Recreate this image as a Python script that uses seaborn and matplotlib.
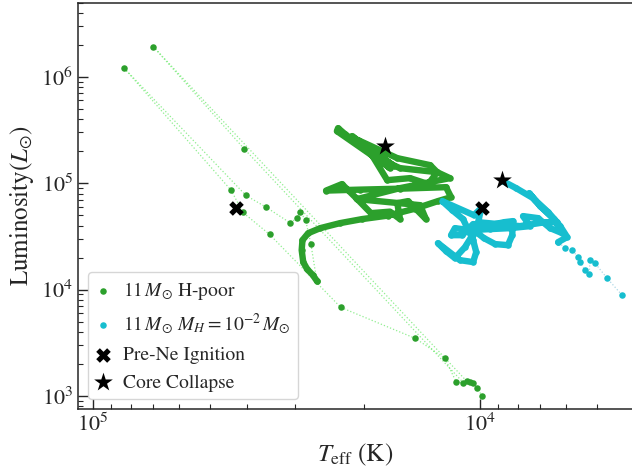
import numpy as np
import pandas as pd
import matplotlib
matplotlib.use("Agg")
import matplotlib.pyplot as plt
import seaborn as sns
from matplotlib.ticker import NullFormatter, LogLocator

# ---------------- data (log10 Teff [K], log10 L [Lsun]) ----------------
# 11 Msun H-poor: sparse models (time ordered)
hpoor_sparse_logT = [3.994, 4.007, 4.019, 4.026, 4.034, 4.844, 4.609, 4.043, 4.062, 4.091,
                     4.167, 4.360, 4.544, 4.613, 4.643, 4.919, 4.605, 4.553, 4.491, 4.474,
                     4.465, 4.451, 4.437, 4.422]
hpoor_sparse_logL = [2.996, 3.072, 3.119, 3.134, 3.137, 6.282, 5.321, 3.124, 3.134, 3.354,
                     3.541, 3.833, 4.519, 4.726, 4.932, 6.079, 4.885, 4.775, 4.628, 4.669,
                     4.731, 4.656, 4.425, 4.083]
# 11 Msun H-poor: densely sampled late track (time ordered)
hpoor_dense_logT = [4.422, 4.432, 4.447, 4.457, 4.461, 4.459, 4.444, 4.413, 4.362, 4.305,
                    4.238, 4.168, 4.109, 4.075, 4.088, 4.207, 4.310, 4.398, 4.357, 4.320,
                    4.282, 4.233, 4.207, 4.214, 4.186, 4.140, 4.155, 4.318, 4.207, 4.078,
                    4.111, 4.207, 4.277, 4.370, 4.367, 4.349, 4.233, 4.331, 4.222, 4.315,
                    4.214, 4.129, 4.111, 4.134, 4.181, 4.240, 4.292, 4.258]
hpoor_dense_logL = [4.083, 4.136, 4.193, 4.259, 4.371, 4.465, 4.531, 4.578, 4.625, 4.663,
                    4.696, 4.761, 4.832, 4.869, 4.963, 4.949, 4.940, 4.931, 4.992, 4.860,
                    4.719, 4.733, 4.663, 4.813, 4.832, 4.663, 4.794, 4.851, 4.954, 5.048,
                    5.104, 5.142, 5.255, 5.490, 5.518, 5.462, 5.142, 5.443, 5.161, 5.405,
                    5.236, 5.170, 5.104, 4.992, 5.048, 5.029, 5.339, 5.302]

# 11 Msun, M_H = 1e-2 Msun: sparse tail (time ordered)
hrich_sparse_logT = [3.633, 3.672, 3.703, 3.716, 3.718, 3.729, 3.742, 3.747, 3.762, 3.780,
                     3.798]
hrich_sparse_logL = [3.948, 4.108, 4.249, 4.277, 4.146, 4.183, 4.259, 4.306, 4.371, 4.390,
                     4.447]
# 11 Msun, M_H = 1e-2 Msun: dense track (time ordered)
hrich_dense_logT = [3.798, 3.775, 3.793, 3.824, 3.858, 3.873, 3.845, 3.809, 3.788, 3.819,
                    3.850, 3.889, 3.871, 3.922, 3.974, 4.026, 4.065, 4.075, 4.046, 4.018,
                    3.974, 3.938, 3.915, 3.917, 3.928, 3.961, 3.990, 4.010, 4.026, 4.039,
                    4.065, 4.088, 4.109, 4.052, 4.018, 4.010, 4.018, 4.044, 4.072, 4.098,
                    4.016, 3.997, 4.005, 3.897, 3.832, 3.801, 3.827, 3.863, 3.907, 3.941]
hrich_dense_logL = [4.447, 4.494, 4.597, 4.728, 4.841, 4.907, 4.785, 4.663, 4.531, 4.578,
                    4.672, 4.691, 4.597, 4.578, 4.569, 4.559, 4.578, 4.512, 4.512, 4.616,
                    4.606, 4.634, 4.644, 4.512, 4.418, 4.428, 4.484, 4.541, 4.475, 4.400,
                    4.296, 4.362, 4.437, 4.277, 4.259, 4.353, 4.465, 4.663, 4.747, 4.832,
                    4.700, 4.766, 4.634, 4.597, 4.634, 4.634, 4.728, 4.860, 4.954, 5.020]

# Events: [H-poor, H-rich]
preNe_logT = [4.630, 3.996]
preNe_logL = [4.763, 4.769]
collapse_logT = [4.245, 3.943]
collapse_logL = [5.349, 5.029]

labels = [r"$11\,M_{\odot}$ H-poor", r"$11\,M_{\odot}$ $M_H=10^{-2}\,M_{\odot}$",
          "Pre-Ne Ignition", "Core Collapse"]

# ---------------- style ----------------
sns.set_style("ticks")
plt.rcParams["font.family"] = ["STIXGeneral", "DejaVu Serif"]
plt.rcParams["mathtext.fontset"] = "stix"

green = "#2ca02c"
cyan = "#17becf"
lgreen = "#90ee90"
lblue = "#add8e6"

def df_of(logT, logL):
    return pd.DataFrame({"Teff": 10 ** np.array(logT), "L": 10 ** np.array(logL)})

hp_sparse = df_of(hpoor_sparse_logT, hpoor_sparse_logL)
hp_dense = df_of(hpoor_dense_logT, hpoor_dense_logL)
hp_all = pd.concat([hp_sparse, hp_dense], ignore_index=True)
hr_sparse = df_of(hrich_sparse_logT, hrich_sparse_logL)
hr_dense = df_of(hrich_dense_logT, hrich_dense_logL)
hr_all = pd.concat([hr_sparse, hr_dense], ignore_index=True)
pre = df_of(preNe_logT, preNe_logL)
cc = df_of(collapse_logT, collapse_logL)

fig = plt.figure(figsize=(6.32, 4.68), dpi=100)
ax = fig.add_axes([78 / 632, 59 / 468, 1 - 78 / 632, 406.5 / 468])
ax.set_xscale("log")
ax.set_yscale("log")

# thin dotted connections
sns.lineplot(data=hp_all, x="Teff", y="L", sort=False, estimator=None, color=lgreen,
             lw=0.9, linestyle=":", ax=ax, legend=False, zorder=1)
sns.lineplot(data=hr_all, x="Teff", y="L", sort=False, estimator=None, color=lblue,
             lw=0.9, linestyle=":", ax=ax, legend=False, zorder=1)
# dense parts
sns.lineplot(data=hp_dense, x="Teff", y="L", sort=False, estimator=None, color=green,
             lw=4.6, ax=ax, legend=False, zorder=2, solid_capstyle="round",
             solid_joinstyle="round")
sns.lineplot(data=hr_dense, x="Teff", y="L", sort=False, estimator=None, color=cyan,
             lw=4.6, ax=ax, legend=False, zorder=2, solid_capstyle="round",
             solid_joinstyle="round")
# points
sns.scatterplot(data=hp_all, x="Teff", y="L", color=green, s=22, linewidth=0, ax=ax,
                label=labels[0], zorder=3)
sns.scatterplot(data=hr_all, x="Teff", y="L", color=cyan, s=22, linewidth=0, ax=ax,
                label=labels[1], zorder=3)
sns.scatterplot(data=pre, x="Teff", y="L", color="black", marker="X", s=110, linewidth=0,
                ax=ax, label=labels[2], zorder=5)
sns.scatterplot(data=cc, x="Teff", y="L", color="black", marker="*", s=200, linewidth=0,
                ax=ax, label=labels[3], zorder=5)

ax.set_xlim(109400, 4050)
ax.set_ylim(755, 5.0e6)
ax.xaxis.set_minor_formatter(NullFormatter())
ax.yaxis.set_minor_locator(LogLocator(base=10, subs=np.arange(2, 10), numticks=20))
ax.yaxis.set_minor_formatter(NullFormatter())
ax.tick_params(which="both", direction="in", top=False, right=False, labelsize=16)
ax.tick_params(which="major", length=7, width=1.0)
ax.tick_params(which="minor", length=3.5, width=0.8)
ax.spines["right"].set_visible(False)
for s in ["left", "bottom", "top"]:
    ax.spines[s].set_linewidth(1.1)

ax.set_xlabel(r"$T_{\rm eff}$ (K)", fontsize=18)
ax.set_ylabel(r"Luminosity$(L_{\odot})$", fontsize=18)

ax.legend(loc="lower left", fontsize=14, handlelength=0.8, handletextpad=0.6,
          labelspacing=0.5, borderpad=0.4, borderaxespad=0.5)

fig.savefig("out.png", dpi=100)
